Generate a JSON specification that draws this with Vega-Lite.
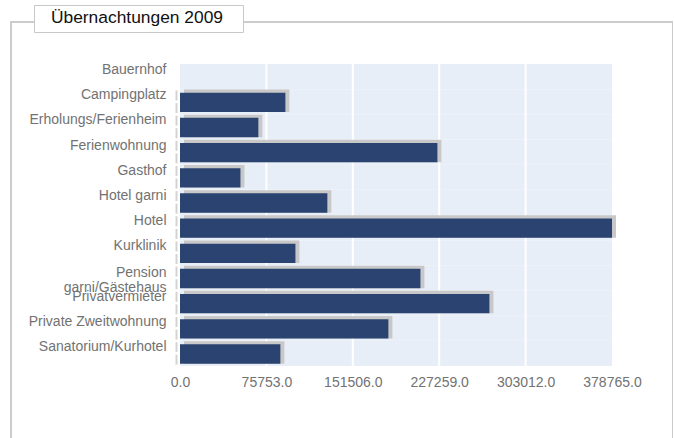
{
  "$schema": "https://vega.github.io/schema/vega-lite/v6.json",
  "width": 662,
  "height": 430,
  "autosize": {"type": "none"},
  "padding": {"left": 11, "top": 22, "right": 0, "bottom": 0},
  "background": "white",
  "config": {
    "view": {"stroke": "#cccccc", "strokeWidth": 2},
    "font": "Liberation Sans"
  },
  "datasets": {
    "rows": [
      {"cat": "Bauernhof", "v": 0},
      {"cat": "Campingplatz", "v": 92400},
      {"cat": "Erholungs/Ferienheim", "v": 68700},
      {"cat": "Ferienwohnung", "v": 225700},
      {"cat": "Gasthof", "v": 53000},
      {"cat": "Hotel garni", "v": 129200},
      {"cat": "Hotel", "v": 378765},
      {"cat": "Kurklinik", "v": 101200},
      {"cat": "Pension garni/Gästehaus", "v": 210800},
      {"cat": "Privatvermieter", "v": 271300},
      {"cat": "Private Zweitwohnung", "v": 182700},
      {"cat": "Sanatorium/Kurhotel", "v": 88000}
    ],
    "grid": [{"t": 75753}, {"t": 151506}, {"t": 227259}, {"t": 303012}]
  },
  "data": {"name": "rows"},
  "layer": [
    {
      "mark": {"type": "bar", "color": "#e8eef7", "height": {"band": 1}},
      "encoding": {
        "x": {"datum": 378765, "type": "quantitative",
          "scale": {"domain": [0, 378765], "range": [169, 601], "nice": false, "zero": true},
          "axis": {"values": [0, 75753, 151506, 227259, 303012, 378765], "format": ".1f", "title": null,
            "grid": false, "domain": false, "ticks": false, "tickSize": 0, "labelPadding": 9,
            "labelFontSize": 14, "labelColor": "#727272", "labelFont": "Liberation Sans", "offset": -86, "labelFlush": false}},
        "y": {"field": "cat", "type": "nominal", "sort": null,
          "scale": {"domain": ["Bauernhof", "Campingplatz", "Erholungs/Ferienheim", "Ferienwohnung", "Gasthof", "Hotel garni", "Hotel", "Kurklinik", "Pension garni/Gästehaus", "Privatvermieter", "Private Zweitwohnung", "Sanatorium/Kurhotel"], "range": [42, 344], "paddingInner": 0, "paddingOuter": 0},
          "axis": {"title": null, "grid": false, "domain": false, "ticks": false, "tickSize": 0, "labelPadding": 14,
            "labelFontSize": 14, "labelColor": "#727272", "labelFont": "Liberation Sans", "offset": -169, "labelLimit": 300,
            "labelLineHeight": 15.3,
            "labelExpr": "datum.value == 'Pension garni/Gästehaus' ? ['Pension', 'garni/Gästehaus'] : datum.label",
            "labelOffset": {"condition": {"test": "datum.value == 'Pension garni/Gästehaus'", "value": -5.2}, "value": -6.5}}}
      }
    },
    {
      "data": {"name": "grid"},
      "mark": {"type": "rule", "color": "white", "strokeWidth": 2},
      "encoding": {
        "x": {"field": "t", "type": "quantitative"},
        "y": {"datum": "Bauernhof", "type": "nominal", "bandPosition": 0},
        "y2": {"datum": "Sanatorium/Kurhotel", "bandPosition": 1}
      }
    },
    {
      "transform": [{"filter": "datum.v > 0"}],
      "mark": {"type": "tick", "orient": "vertical", "thickness": 2, "size": 10, "color": "#d3d3d3", "opacity": 1, "xOffset": -3.5, "yOffset": -6.3},
      "encoding": {
        "x": {"datum": 0, "type": "quantitative"},
        "y": {"field": "cat", "type": "nominal", "sort": null}
      }
    },
    {
      "transform": [{"filter": "datum.v > 0"}],
      "mark": {"type": "tick", "orient": "vertical", "thickness": 2, "size": 10, "color": "#d3d3d3", "opacity": 1, "xOffset": -3.5, "yOffset": 6.3},
      "encoding": {
        "x": {"datum": 0, "type": "quantitative"},
        "y": {"field": "cat", "type": "nominal", "sort": null}
      }
    },
    {
      "transform": [{"filter": "datum.v > 0"}],
      "mark": {"type": "bar", "color": "#c8c8c8", "height": 22.5, "yOffset": -1, "xOffset": 4},
      "encoding": {
        "x": {"field": "v", "type": "quantitative"},
        "y": {"field": "cat", "type": "nominal", "sort": null}
      }
    },
    {
      "mark": {"type": "bar", "height": 19.3, "yOffset": 0.6},
      "encoding": {
        "x": {"field": "v", "type": "quantitative"},
        "y": {"field": "cat", "type": "nominal", "sort": null},
        "color": {"datum": "Übernachtungen 2009", "type": "nominal",
          "scale": {"range": ["#2b4370"]},
          "legend": {"orient": "none", "legendX": 23, "legendY": -17, "title": null,
            "fillColor": "white", "strokeColor": "#c8c8c8", "padding": 4.5,
            "symbolOpacity": 0, "symbolSize": 64, "symbolStrokeWidth": 0, "labelOffset": -192,
            "symbolOffset": 187,
            "labelFontSize": 17.4, "labelColor": "#111111", "labelFont": "Liberation Sans",
            "labelLimit": 400}}
      }
    }
  ]
}
